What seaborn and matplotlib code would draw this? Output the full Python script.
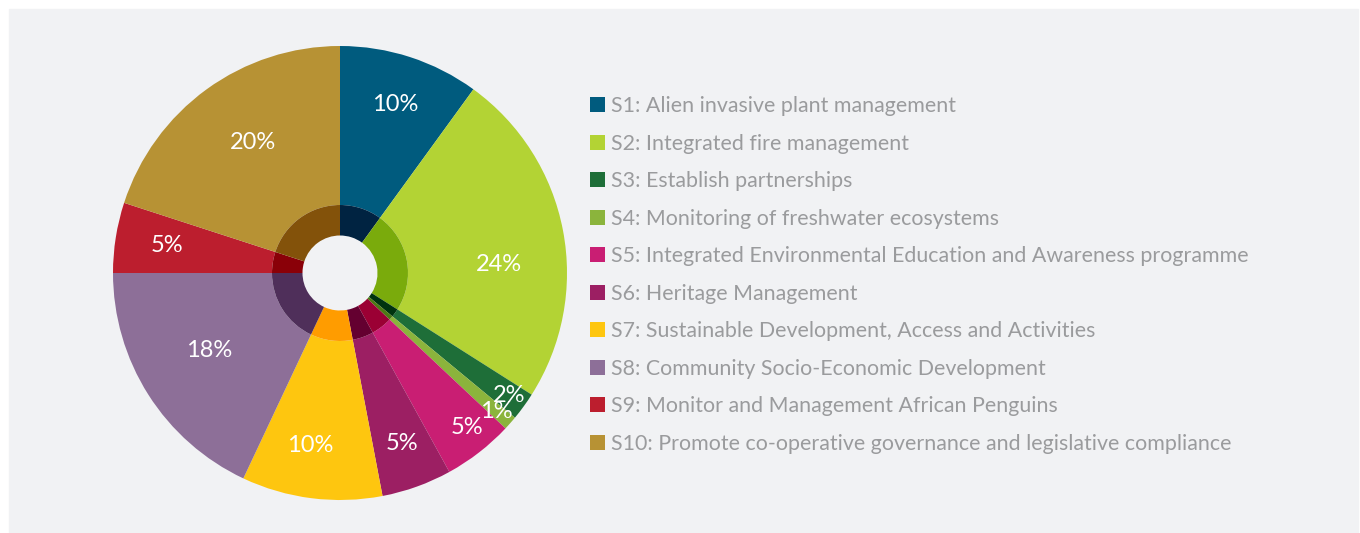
import numpy as np
import matplotlib
matplotlib.use("Agg")
import matplotlib.pyplot as plt
from matplotlib.patches import Patch, Rectangle
import seaborn as sns

# ---- data ----
names = [
    "S1: Alien invasive plant management",
    "S2: Integrated fire management",
    "S3: Establish partnerships",
    "S4: Monitoring of freshwater ecosystems",
    "S5: Integrated Environmental Education and Awareness programme",
    "S6: Heritage Management",
    "S7: Sustainable Development, Access and Activities",
    "S8: Community Socio-Economic Development",
    "S9: Monitor and Management African Penguins",
    "S10: Promote co-operative governance and legislative compliance",
]
shares = [10, 24, 2, 1, 5, 5, 10, 18, 5, 20]

outer_hex = ["#005b7e", "#b3d334", "#1e6e38", "#8bb43c", "#c91e73",
             "#9c1f63", "#fec60f", "#8d6f98", "#bc1e2e", "#b79234"]
inner_hex = ["#002341", "#7aab0c", "#00330f", "#4d7a14", "#9b0034",
             "#640030", "#ff9c00", "#4f2f5a", "#8a0008", "#83520a"]

BG = "#f1f2f4"
GREY_TXT = "#9a9b9d"

sns.set_theme(style="white")
plt.rcParams["font.family"] = ["Lato", "DejaVu Sans"]
outer = sns.color_palette(outer_hex)
inner = sns.color_palette(inner_hex)

W, H = 1360, 533
fig = plt.figure(figsize=(W / 100, H / 100), dpi=100, facecolor="white")
fig.patches.append(Rectangle((9 / W, 0), (1358 - 9) / W, (H - 9) / H,
                             transform=fig.transFigure, color=BG, zorder=-10))

# pie axes: centre (340, 273) px, radius 227 px
cx, cy, R, half = 340, 273, 227, 240
r_hole, r_ring = 37.5, 68
ax = fig.add_axes([(cx - half) / W, (H - cy - half) / H, 2 * half / W, 2 * half / H])
ax.set_facecolor("none")

wedges, _, autotexts = ax.pie(
    shares, colors=outer, startangle=90, counterclock=False, radius=1,
    wedgeprops=dict(width=1 - r_ring / R, linewidth=0), autopct=lambda p: f"{p:.0f}%",
    pctdistance=0.75, textprops=dict(color="white", fontsize=17))
ax.pie(shares, colors=inner, startangle=90, counterclock=False, radius=r_ring / R,
       wedgeprops=dict(width=(r_ring - r_hole) / R, linewidth=0))

# label placement (radius fraction, angle nudge in degrees)
lab_r = [0.78, 0.70, 0.92, 0.92, 0.88, 0.80, 0.77, 0.67, 0.77, 0.69]
lab_da = [0, -7.9, 0, 0, 1.7, 0, -2.7, -1.6, 0, -2.2]
for w, t, r, da in zip(wedges, autotexts, lab_r, lab_da):
    a = np.deg2rad((w.theta1 + w.theta2) / 2 + da)
    t.set_position((r * np.cos(a), r * np.sin(a)))
    t.set_ha("center"); t.set_va("center")

lim = half / R
ax.set_xlim(-lim, lim); ax.set_ylim(-lim, lim)
ax.set_aspect("equal"); ax.axis("off")

handles = [Patch(facecolor=c, edgecolor="none") for c in outer]
fig.legend(handles, names, loc="upper left", bbox_to_anchor=(590 / W, 1 - 96 / H),
           frameon=False, fontsize=15.4, labelcolor=GREY_TXT,
           handlelength=0.7, handleheight=0.7, handletextpad=0.3,
           labelspacing=0.82, borderaxespad=0, borderpad=0)

fig.savefig("out.png", dpi=100, facecolor="white")
